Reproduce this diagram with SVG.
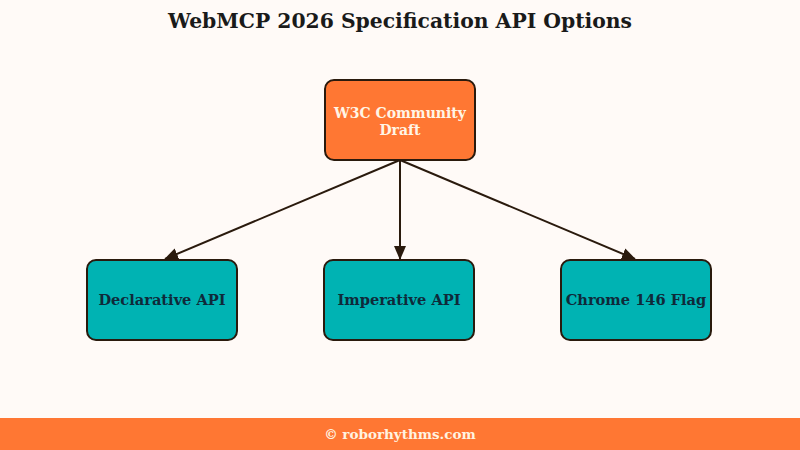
<svg xmlns="http://www.w3.org/2000/svg" width="800" height="450" viewBox="0 0 800 450">
<defs>
<style>
.t{font-family:"DejaVu Serif","Liberation Serif",serif;font-weight:bold;text-anchor:middle}
.box{stroke:#2a1a0d;stroke-width:2}
.top{fill:#ff7733}
.leaf{fill:#00b3b3}
.edge{stroke:#2a1a0d;stroke-width:2;fill:none}
</style>
<marker id="ah" markerWidth="14" markerHeight="12" refX="13" refY="6" orient="auto" markerUnits="userSpaceOnUse">
<path d="M0,0 L14,6 L0,12 Z" fill="#2a1a0d"/>
</marker>
</defs>
<rect width="800" height="450" fill="#fffaf7"/>
<text class="t" x="400" y="28" font-size="21" fill="#1a1a1a" textLength="464" lengthAdjust="spacingAndGlyphs">WebMCP 2026 Specification API Options</text>
<g id="connectors">
<line class="edge" x1="400" y1="160" x2="165" y2="259" marker-end="url(#ah)"/>
<line class="edge" x1="400" y1="160" x2="400" y2="259" marker-end="url(#ah)"/>
<line class="edge" x1="400" y1="160" x2="635" y2="259" marker-end="url(#ah)"/>
</g>
<g id="n-w3c">
<rect class="box top" x="325" y="80" width="150" height="80" rx="9"/>
<text class="t" x="400" y="118" font-size="14" fill="#fff5e6">W3C Community</text>
<text class="t" x="400" y="135" font-size="14" fill="#fff5e6">Draft</text>
</g>
<g id="n-decl">
<rect class="box leaf" x="87" y="260" width="150" height="80" rx="9"/>
<text class="t" x="162" y="305" font-size="14.6" fill="#0f2a3a">Declarative API</text>
</g>
<g id="n-imp">
<rect class="box leaf" x="324" y="260" width="150" height="80" rx="9"/>
<text class="t" x="399" y="305" font-size="14.6" fill="#0f2a3a">Imperative API</text>
</g>
<g id="n-chrome">
<rect class="box leaf" x="561" y="260" width="150" height="80" rx="9"/>
<text class="t" x="636" y="305" font-size="14.6" fill="#0f2a3a">Chrome 146 Flag</text>
</g>
<rect x="0" y="418" width="800" height="32" fill="#ff7733"/>
<text class="t" x="400" y="439" font-size="13.5" fill="#fff3e0">© roborhythms.com</text>
</svg>
